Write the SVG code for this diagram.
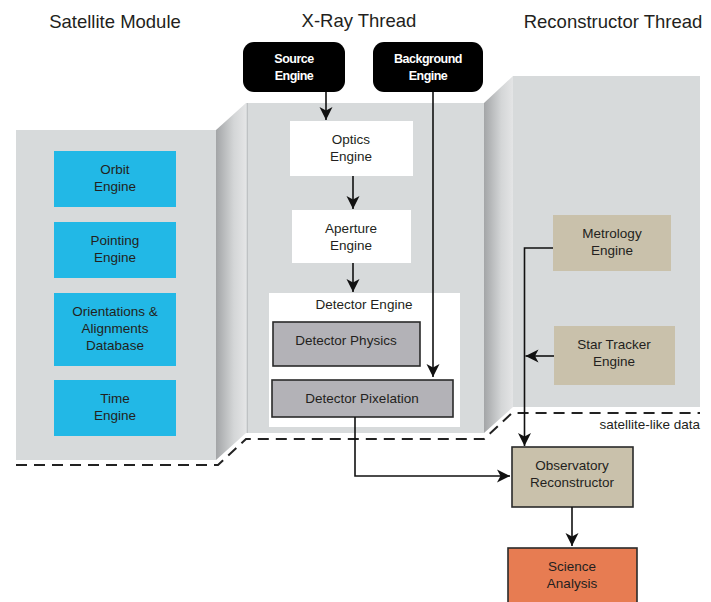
<svg xmlns="http://www.w3.org/2000/svg" width="711" height="602" viewBox="0 0 711 602">
<defs>
<linearGradient id="bevel" x1="0" y1="0" x2="1" y2="0">
<stop offset="0" stop-color="#a3a5a7"/>
<stop offset="0.6" stop-color="#d4d6d7"/>
<stop offset="1" stop-color="#e4e5e6"/>
</linearGradient>
<marker id="arr" viewBox="-1 -7 15 14" refX="13" refY="0" markerWidth="15" markerHeight="14" markerUnits="userSpaceOnUse" orient="auto">
<path d="M0,-6.5 L13,0 L0,6.5 L3.5,0 z" fill="#111"/>
</marker>
<style>
text{font-family:"Liberation Sans",Arial,sans-serif;fill:#231f20;text-anchor:middle}
.title{font-size:18.5px}
.lbl{font-size:13.5px}
.blk{font-size:12.5px;font-weight:bold;fill:#fff;letter-spacing:-0.5px}
.panel{fill:#d7dadb}
.bev{fill:url(#bevel)}
.blue{fill:#22b8e6}
.tan{fill:#c9c1ab}
.white{fill:#fff}
.gray{fill:#b3b2b7;stroke:#2a2a2a;stroke-width:1.6}
.black{fill:#000}
.obs{fill:#c9c1ab;stroke:#2a2a2a;stroke-width:1.6}
.sci{fill:#e77c52;stroke:#2a2a2a;stroke-width:1.6}
.conn{fill:none;stroke:#111;stroke-width:1.6}
.dash{fill:none;stroke:#222;stroke-width:2;stroke-dasharray:11 7}
</style>
</defs>

<g id="background">
<rect class="panel" x="16" y="130" width="200" height="330"/>
<polygon class="bev" points="216,130 246,103 246,433 216,460"/>
<rect class="panel" x="246" y="103" width="238" height="330"/>
<line x1="247.5" y1="103" x2="247.5" y2="433" stroke="#bfc2c4" stroke-width="1"/>
<polygon class="bev" points="484,103 513,76 513,407 484,433"/>
<rect class="panel" x="513" y="76" width="187" height="331"/>
<path class="dash" d="M16,465 H218 L246,439 H484 L512,413 H700"/>
</g>

<g id="titles">
<text class="title" x="115" y="28">Satellite Module</text>
<text class="title" x="359" y="27">X-Ray Thread</text>
<text class="title" x="613" y="28">Reconstructor Thread</text>
<text class="lbl" x="700" y="429" style="text-anchor:end">satellite-like data</text>
</g>

<g id="orbit-engine">
<rect class="blue" x="54" y="151" width="122" height="56"/>
<text class="lbl" x="115" y="174">Orbit</text>
<text class="lbl" x="115" y="191">Engine</text>
</g>
<g id="pointing-engine">
<rect class="blue" x="54" y="222" width="122" height="56"/>
<text class="lbl" x="115" y="245">Pointing</text>
<text class="lbl" x="115" y="262">Engine</text>
</g>
<g id="orientations-db">
<rect class="blue" x="54" y="293" width="122" height="73"/>
<text class="lbl" x="115" y="316">Orientations &amp;</text>
<text class="lbl" x="115" y="333">Alignments</text>
<text class="lbl" x="115" y="350">Database</text>
</g>
<g id="time-engine">
<rect class="blue" x="54" y="380" width="122" height="56"/>
<text class="lbl" x="115" y="403">Time</text>
<text class="lbl" x="115" y="420">Engine</text>
</g>

<g id="source-engine">
<rect class="black" x="243" y="42" width="102" height="50" rx="11"/>
<text class="blk" x="294" y="63">Source</text>
<text class="blk" x="294" y="80">Engine</text>
</g>
<g id="background-engine">
<rect class="black" x="373" y="42" width="110" height="50" rx="11"/>
<text class="blk" x="428" y="63">Background</text>
<text class="blk" x="428" y="80">Engine</text>
</g>

<g id="optics-engine">
<rect class="white" x="290" y="121" width="123" height="55"/>
<text class="lbl" x="351" y="144">Optics</text>
<text class="lbl" x="351" y="161">Engine</text>
</g>
<g id="aperture-engine">
<rect class="white" x="292" y="210" width="119" height="53"/>
<text class="lbl" x="351" y="233">Aperture</text>
<text class="lbl" x="351" y="250">Engine</text>
</g>
<g id="detector-engine">
<rect class="white" x="269" y="293" width="191" height="134"/>
<text class="lbl" x="364" y="309">Detector Engine</text>
</g>
<g id="detector-physics">
<rect class="gray" x="273" y="322" width="147" height="44"/>
<text class="lbl" x="346" y="345">Detector Physics</text>
</g>
<g id="detector-pixelation">
<rect class="gray" x="272" y="380" width="181" height="37"/>
<text class="lbl" x="362" y="403">Detector Pixelation</text>
</g>

<g id="metrology-engine">
<rect class="tan" x="553" y="215" width="118" height="56"/>
<text class="lbl" x="612" y="238">Metrology</text>
<text class="lbl" x="612" y="255">Engine</text>
</g>
<g id="star-tracker-engine">
<rect class="tan" x="554" y="326" width="121" height="59"/>
<text class="lbl" x="614" y="349">Star Tracker</text>
<text class="lbl" x="614" y="366">Engine</text>
</g>
<g id="observatory-reconstructor">
<rect class="obs" x="512" y="447" width="121" height="60"/>
<text class="lbl" x="572" y="470">Observatory</text>
<text class="lbl" x="572" y="487">Reconstructor</text>
</g>
<g id="science-analysis">
<rect class="sci" x="508" y="548" width="129" height="60"/>
<text class="lbl" x="572" y="571">Science</text>
<text class="lbl" x="572" y="588">Analysis</text>
</g>

<g id="connectors">
<path class="conn" d="M326,92 V120" marker-end="url(#arr)"/>
<path class="conn" d="M353,176 V209" marker-end="url(#arr)"/>
<path class="conn" d="M353,263 V292" marker-end="url(#arr)"/>
<path class="conn" d="M433,92 V377" marker-end="url(#arr)"/>
<path class="conn" d="M355,417 V476 H510" marker-end="url(#arr)"/>
<path class="conn" d="M553,248 H524.5 V446" marker-end="url(#arr)"/>
<path class="conn" d="M554,356 H525.5" marker-end="url(#arr)"/>
<path class="conn" d="M572,507 V546" marker-end="url(#arr)"/>
</g>
</svg>
